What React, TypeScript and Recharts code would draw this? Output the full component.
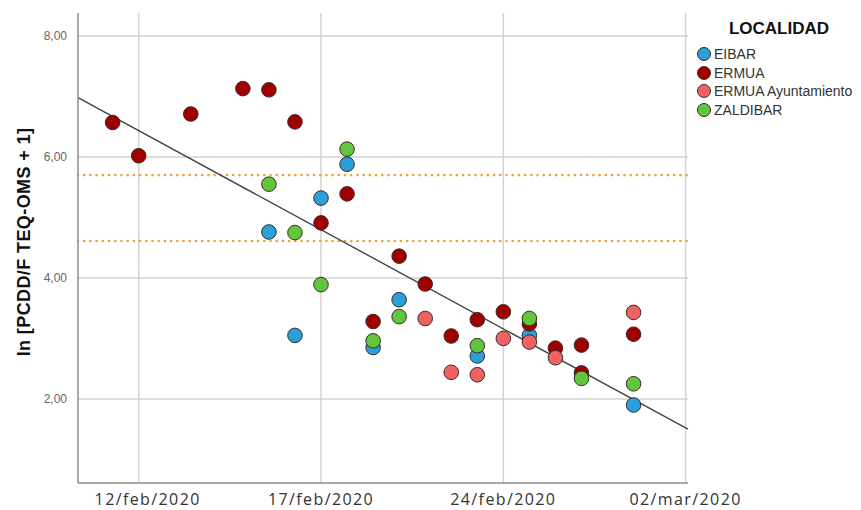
import { ScatterChart, Scatter, XAxis, YAxis, CartesianGrid, ReferenceLine } from 'recharts';

// day numbers on a linear axis (gridlines every 7 days)
const X_TICKS = [10, 17, 24, 31];
const X_LABELS = ['12/feb/2020', '17/feb/2020', '24/feb/2020', '02/mar/2020'];
const Y_TICKS = [2, 4, 6, 8];
const X_DOMAIN: [number, number] = [7.67, 31.09];
const Y_DOMAIN: [number, number] = [0.61, 8.38];

const EIBAR_DAYS = [15, 16, 17, 18, 19, 20, 23, 25, 29];
const EIBAR_VALUES = [4.76, 3.05, 5.32, 5.88, 2.85, 3.64, 2.71, 3.05, 1.9];

const ERMUA_DAYS = [9, 10, 12, 14, 15, 16, 17, 18, 19, 20, 21, 22, 23, 24, 25, 26, 27, 27, 29];
const ERMUA_VALUES = [6.57, 6.02, 6.71, 7.13, 7.11, 6.58, 4.91, 5.39, 3.28, 4.36, 3.9, 3.04, 3.31, 3.44, 3.24, 2.84, 2.89, 2.43, 3.07];

const AYTO_DAYS = [21, 22, 23, 24, 25, 26, 29];
const AYTO_VALUES = [3.33, 2.44, 2.4, 3.0, 2.94, 2.68, 3.43];

const ZALDIBAR_DAYS = [15, 16, 17, 18, 19, 20, 23, 25, 27, 29];
const ZALDIBAR_VALUES = [5.55, 4.75, 3.89, 6.13, 2.96, 3.36, 2.88, 3.33, 2.34, 2.25];

// guide levels and linear fit (y = a + b * day)
const LIMITS = [5.7, 4.61];
const FIT_A = 8.775;
const FIT_B = -0.234;

const SERIES = [
  { name: 'EIBAR', color: '#2aa0d8', days: EIBAR_DAYS, values: EIBAR_VALUES },
  { name: 'ERMUA', color: '#9e0000', days: ERMUA_DAYS, values: ERMUA_VALUES },
  { name: 'ERMUA Ayuntamiento', color: '#f06262', days: AYTO_DAYS, values: AYTO_VALUES },
  { name: 'ZALDIBAR', color: '#62c63c', days: ZALDIBAR_DAYS, values: ZALDIBAR_VALUES },
];

const fmtY = (v: number) => v.toFixed(2).replace('.', ',');

const XTick = (p: any) => {
  const i = X_TICKS.indexOf(p.payload.value);
  // first label sits a bit right of its gridline in the original
  const shift = i === 0 ? 9 : 0;
  return (
    <text
      x={p.x + shift} y={p.y} dy="0.71em" textAnchor="middle"
      fontFamily="Open Sans" fontSize={16} letterSpacing={1.4} fill="#333"
    >
      {X_LABELS[i] ?? ''}
    </text>
  );
};

const dot = (color: string) => (p: any) => (
  <circle cx={p.cx} cy={p.cy} r={7.3} fill={color} stroke="#3a2a2a" strokeWidth={1} />
);

export default function App() {
  return (
    <div style={{ position: 'absolute', left: 0, top: 0, width: 861, height: 510, background: '#fff', overflow: 'hidden' }}>
      <ScatterChart width={861} height={510} margin={{ top: 13, right: 173, bottom: 0, left: 0 }}>
        <CartesianGrid stroke="#d2d2d2" strokeWidth={1.5} horizontalValues={Y_TICKS} verticalValues={X_TICKS} />
        <XAxis
          type="number" dataKey="x" domain={X_DOMAIN} ticks={X_TICKS} allowDataOverflow
          height={27} tickLine={false} tickSize={6} tickMargin={5}
          axisLine={{ stroke: '#8c8c8c', strokeWidth: 1.5 }}
          tick={<XTick />}
        />
        <YAxis
          type="number" dataKey="y" domain={Y_DOMAIN} ticks={Y_TICKS} allowDataOverflow
          tickFormatter={fmtY} width={78} tickLine={false} tickSize={6} tickMargin={5}
          axisLine={{ stroke: '#8c8c8c', strokeWidth: 1.5 }}
          tick={{ fontSize: 12, fill: '#666', fontFamily: 'Arial' }}
        />
        {LIMITS.map((v) => (
          <ReferenceLine key={v} y={v} stroke="#f0a030" strokeWidth={2.6} strokeDasharray="0.01 6.2" strokeLinecap="round" />
        ))}
        <ReferenceLine
          segment={[
            { x: X_DOMAIN[0], y: FIT_A + FIT_B * X_DOMAIN[0] },
            { x: X_DOMAIN[1], y: FIT_A + FIT_B * X_DOMAIN[1] },
          ]}
          stroke="#444" strokeWidth={1.4}
        />
        {SERIES.map((s) => (
          <Scatter
            key={s.name}
            name={s.name}
            data={s.days.map((d, i) => ({ x: d, y: s.values[i] }))}
            shape={dot(s.color)}
            isAnimationActive={false}
          />
        ))}
      </ScatterChart>

      <div
        style={{
          position: 'absolute', left: 24, top: 242, transform: 'translate(-50%, -50%) rotate(-90deg)',
          whiteSpace: 'nowrap', fontFamily: 'Arial', fontWeight: 'bold', fontSize: 18, letterSpacing: 0.4, color: '#111',
        }}
      >
        ln [PCDD/F TEQ-OMS + 1]
      </div>

      {/* Legend */}
      <div style={{ position: 'absolute', left: 697, top: 19, fontFamily: 'Arial', color: '#333' }}>
        <div style={{ width: 164, textAlign: 'center', fontWeight: 'bold', fontSize: 17, color: '#111', marginBottom: 6, paddingRight: 6 }}>
          LOCALIDAD
        </div>
        {SERIES.map((s) => (
          <div key={s.name} style={{ display: 'flex', alignItems: 'center', height: 18.5, fontSize: 14 }}>
            <span
              style={{
                width: 12, height: 12, borderRadius: '50%', background: s.color,
                border: '1px solid #3a2a2a', marginRight: 3, flexShrink: 0,
              }}
            />
            <span>{s.name}</span>
          </div>
        ))}
      </div>
    </div>
  );
}
